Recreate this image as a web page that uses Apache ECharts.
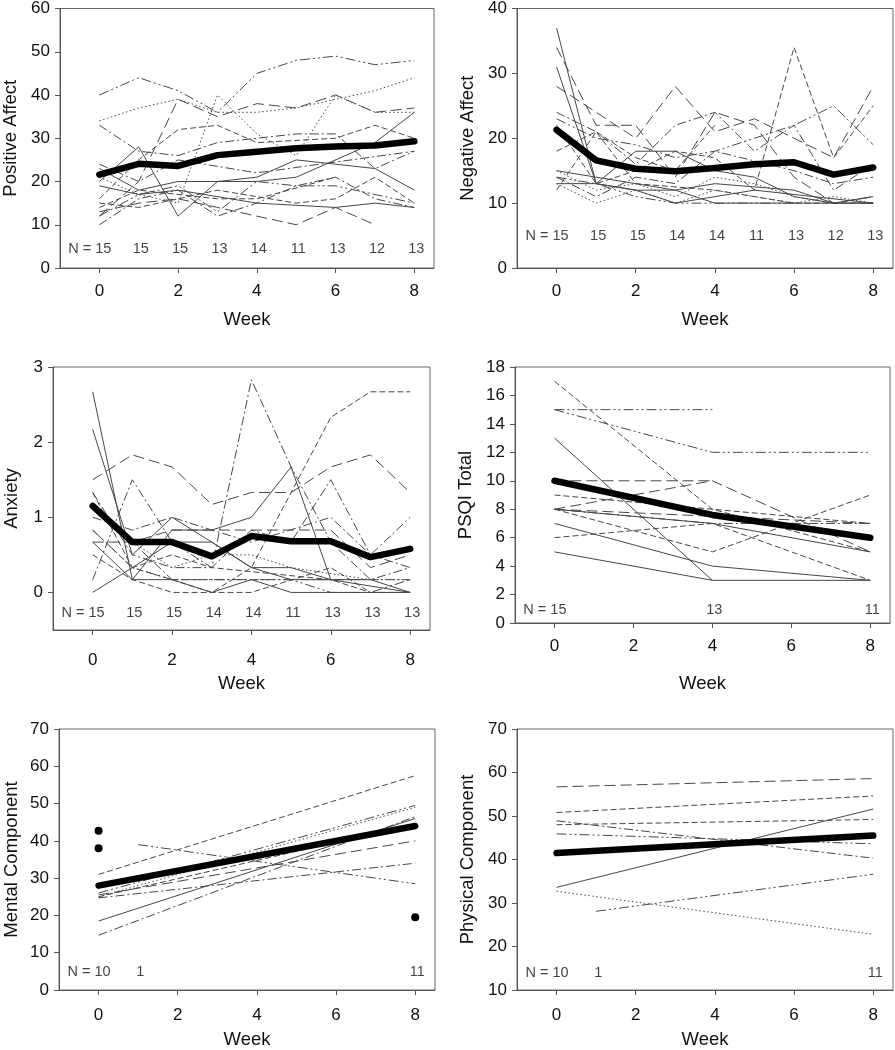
<!DOCTYPE html>
<html><head><meta charset="utf-8">
<script src="https://cdn.jsdelivr.net/npm/echarts@6/dist/echarts.min.js"></script>
<style>html,body{margin:0;padding:0;background:#fff}#c{width:895px;height:1050px}</style>
</head><body><div id="c"></div>
<script>
// ---------------- DATA ----------------
const weeks = [0,1,2,3,4,5,6,7,8];
const psqiWeeks = [0,4,8];
const sf36Weeks = [0,1,8];
const xTickValues = [0,2,4,6,8];

// Positive Affect
const paN = [15,15,15,13,14,11,13,12,13];
const paMean = [21.6,24.1,23.6,26.1,26.9,27.7,28.1,28.3,29.3];
const paSubjects = [
  [40,44,41,36,45,48,49,47,48],
  [34,37,39,36,36,37,39,41,44],
  [33,27,26,29,30,31,31,23,27],
  [21,17,15,40,31,26,40,36,36],
  [12,20,39,35,38,37,40,36,37],
  [16,25,32,33,29,null,30,33,30],
  [20,28,12,20,21,25,24,23,18],
  [23,18,20,20,20,21,null,29,36],
  [13,15,16,14,12,10,14,10,null],
  [15,14,16,18,null,15,16,21,15],
  [12,17,19,13,20,19,19,null,15],
  [19,17,18,null,15,null,14,15,14],
  [10,16,18,12,15,19,21,16,14],
  [14,18,17,16,16,null,21,null,null],
  [24,20,25,null,22,null,null,null,27]
];

// Negative Affect
const naN = [15,15,15,14,14,11,13,12,13];
const naMean = [21.3,16.6,15.3,14.9,15.4,16.0,16.3,14.4,15.5];
const naSubjects = [
  [37,13,12,12,10,10,10,10,10],
  [34,22,22,14,24,22,14,10,11],
  [31,13,18,18,15,14,11,10,11],
  [28,24,20,28,21,23,20,17,28],
  [22,13,15,18,17,12,34,17,25],
  [24,21,16,22,24,18,22,12,16],
  [23,20,19,17,18,20,22,25,19],
  [13,10,12,10,12,11,10,11,10],
  [15,12,13,11,14,13,11,10,11],
  [15,14,13,12,13,null,12,10,10],
  [14,11,14,13,18,null,15,13,14],
  [12,21,13,null,12,null,10,10,10],
  [13,13,12,10,null,12,null,null,10],
  [14,13,11,10,10,10,10,null,null],
  [18,21,17,15,22,null,null,null,null]
];

// Anxiety
const anxN = [15,15,15,14,14,11,13,13,13];
const anxMean = [1.15,0.67,0.67,0.48,0.75,0.68,0.68,0.47,0.58];
const anxSubjects = [
  [2.67,0.17,0.17,0,0.17,0,0,0,0],
  [2.17,0.5,1.0,0.67,0.33,0.17,0.17,null,0],
  [1.5,1.83,1.67,1.17,1.33,1.33,1.67,1.83,1.33],
  [1.33,0.33,0.17,0,0.33,null,2.33,2.67,2.67],
  [0.17,1.5,0.67,0.33,2.83,1.67,0.67,0.17,0.33],
  [0.67,0.17,0.83,0.83,1.0,1.67,0.17,0.17,0],
  [1.33,0.5,0.33,0.33,0.83,0.67,1.5,0.5,0.33],
  [1.0,0.83,1.0,0.83,0.67,null,1.0,0.5,1.0],
  [0.67,0.67,0.83,0.83,0.83,0.83,0.83,0.33,0.5],
  [0.5,0.17,0,0,0,null,0.33,0,0],
  [0.83,0.33,0.17,0.17,0.17,0.17,0,0,0.17],
  [1.17,0.67,0.33,0.5,0.5,0.33,null,0.17,0.17],
  [0,0.33,0.67,0.67,0.33,0.33,0.17,null,null],
  [0.83,0.33,0.5,0.33,null,null,0.17,0,null],
  [1.17,0.67,0.17,null,0.17,0.17,null,0.17,0.17]
];

// PSQI Total
const psqiN = [15,13,11];
const psqiMean = [10,7.6,6];
const psqiSubjects = [
  [15,15,null],
  [15,12,12],
  [17,8,5],
  [13,3,3],
  [10,10,null],
  [8,10,5],
  [9,8,7],
  [8,7,7],
  [8,5,9],
  [6,7,3],
  [8,null,7],
  [7,4,3],
  [5,3,null],
  [8,7,5],
  [9,null,null]
];

// SF-36 Mental Component
const mcsN = [10,1,11];
const mcsMean = [28,null,44];
const mcsSubjects = [
  [31,null,57.5],
  [25,null,49],
  [26,null,49.5],
  [18.5,null,46],
  [14.7,null,46.5],
  [25.5,null,40],
  [24.7,null,34],
  [null,39,28.5],
  [25,null,44.5]
];
const mcsSinglePoints = [[0,42.7],[0,38],[8,19.5]];

// SF-36 Physical Component
const pcsN = [10,1,11];
const pcsMean = [41.5,null,45.5];
const pcsSubjects = [
  [56.7,null,58.6],
  [50.8,null,54.6],
  [48.0,null,49.2],
  [48.9,null,40.3],
  [45.9,null,43.6],
  [33.6,null,51.6],
  [32.7,null,22.8],
  [null,28.1,36.6]
];

// ---------------- STYLES ----------------
const DASH = {
  solid: 'solid',
  long: [11,5],
  dash: [6,3],
  dot: [1.5,2.5],
  dd: [9,3,2,3],
  ddd: [10,3,2,3,2,3]
};
const paStyles  = ['ddd','dot','dd','dot','long','dash','solid','solid','long','dash','ddd','solid','dd','dash','dd'];
const naStyles  = ['solid','long','solid','long','dash','dd','ddd','dot','dot','solid','dd','dash','solid','ddd','dash'];
const anxStyles = ['solid','solid','long','dash','dd','solid','dd','dd','long','dash','ddd','dot','solid','dash','dd'];
const psqiStyles= ['ddd','ddd','dash','solid','long','long','dash','dd','dash','dash','long','solid','solid','solid','dash'];
const mcsStyles = ['dash','dot','ddd','solid','dd','long','dd','ddd','dash'];
const pcsStyles = ['long','dash','dash','dd','ddd','solid','dot','ddd'];

const FONT = 'Liberation Sans, Arial, sans-serif';
const THIN = '#474747';

const panels = [
  {grid:{left:59,top:6,width:375,height:262}, y:{min:0,max:60,ticks:[0,10,20,30,40,50,60]}, name:'Positive Affect', yGap:40, lblMargin:15, xGap:42,
   xs:weeks, subjects:paSubjects, styles:paStyles, mean:paMean, n:paN, nX:weeks, nY:4.35},
  {grid:{left:517,top:6,width:376,height:262}, y:{min:0,max:40,ticks:[0,10,20,30,40]}, name:'Negative Affect', yGap:40, lblMargin:15, xGap:42,
   xs:weeks, subjects:naSubjects, styles:naStyles, mean:naMean, n:naN, nX:weeks, nY:4.9},
  {grid:{left:53,top:367,width:377,height:263}, y:{min:-0.5,max:3,ticks:[0,1,2,3]}, name:'Anxiety', yGap:32, lblMargin:22, xGap:44,
   xs:weeks, subjects:anxSubjects, styles:anxStyles, mean:anxMean, n:anxN, nX:weeks, nY:-0.27},
  {grid:{left:515,top:367,width:375,height:256}, y:{min:0,max:18,ticks:[0,2,4,6,8,10,12,14,16,18]}, name:'PSQI Total', yGap:40, lblMargin:15, xGap:51,
   xs:psqiWeeks, subjects:psqiSubjects, styles:psqiStyles, mean:psqiMean, n:psqiN, nX:psqiWeeks, nY:0.9},
  {grid:{left:59,top:729,width:376,height:264}, y:{min:0,max:70,ticks:[0,10,20,30,40,50,60,70]}, name:'Mental Component', yGap:38, lblMargin:17, xGap:40,
   xs:sf36Weeks, subjects:mcsSubjects, styles:mcsStyles, mean:mcsMean, n:mcsN, nX:sf36Weeks, nY:4.8, points:mcsSinglePoints},
  {grid:{left:517,top:729,width:376,height:264}, y:{min:10,max:70,ticks:[10,20,30,40,50,60,70]}, name:'Physical Component', yGap:40, lblMargin:17, xGap:40,
   xs:sf36Weeks, subjects:pcsSubjects, styles:pcsStyles, mean:pcsMean, n:pcsN, nX:sf36Weeks, nY:14}
];

const grids = [], xAxes = [], yAxes = [], series = [];
const axisLineStyle = {color:'#555', width:1};
panels.forEach((p, i) => {
  grids.push(Object.assign({show:true, borderColor:'#666', borderWidth:1, backgroundColor:'transparent', containLabel:false}, p.grid));
  xAxes.push({
    type:'value', gridIndex:i, min:-1, max:8.5,
    name:'Week', nameLocation:'middle', nameGap:p.xGap,
    nameTextStyle:{fontFamily:FONT, fontSize:18.5, color:'#111'},
    axisLine:{show:true, onZero:false, lineStyle:axisLineStyle},
    axisTick:{show:true, length:5, lineStyle:axisLineStyle, customValues:xTickValues},
    axisLabel:{show:true, margin:p.lblMargin, fontFamily:FONT, fontSize:17, color:'#111', customValues:xTickValues},
    splitLine:{show:false}
  });
  yAxes.push({
    type:'value', gridIndex:i, min:p.y.min, max:p.y.max,
    name:p.name, nameLocation:'middle', nameGap:p.yGap, nameRotate:90,
    nameTextStyle:{fontFamily:FONT, fontSize:18.5, color:'#111'},
    axisLine:{show:true, onZero:false, lineStyle:axisLineStyle},
    axisTick:{show:true, length:5, lineStyle:axisLineStyle, customValues:p.y.ticks},
    axisLabel:{show:true, margin:10, fontFamily:FONT, fontSize:17, color:'#111', customValues:p.y.ticks},
    splitLine:{show:false}
  });
  p.subjects.forEach((vals, k) => {
    series.push({
      type:'line', xAxisIndex:i, yAxisIndex:i, silent:true, animation:false,
      symbol:'none', showSymbol:false, connectNulls:true, z:2,
      lineStyle:{color:THIN, width:1, type:DASH[p.styles[k]]},
      data: p.xs.map((w, j) => [w, vals[j]])
    });
  });
  series.push({
    type:'line', xAxisIndex:i, yAxisIndex:i, silent:true, animation:false,
    symbol:'none', showSymbol:false, connectNulls:true, z:5,
    lineStyle:{color:'#000', width:6.5, cap:'round', join:'round'},
    data: p.xs.map((w, j) => [w, p.mean[j]])
  });
  if (p.points) {
    series.push({
      type:'scatter', xAxisIndex:i, yAxisIndex:i, silent:true, animation:false,
      symbol:'circle', symbolSize:8, itemStyle:{color:'#000', opacity:1}, z:6,
      data:p.points
    });
  }
  series.push({
    type:'scatter', xAxisIndex:i, yAxisIndex:i, silent:true, animation:false,
    symbol:'circle', symbolSize:1, itemStyle:{color:'rgba(0,0,0,0)'}, z:7,
    data: p.nX.map((w, j) => ({
      value:[w, p.nY],
      label:{
        show:true, position:'inside',
        formatter: j === 0 ? ('N = ' + p.n[j]) : String(p.n[j]),
        align: j === 0 ? 'right' : 'center',
        offset: j === 0 ? [12,0] : [2,0],
        fontFamily:FONT, fontSize:14.5, color:'#111'
      }
    }))
  });
});

const chart = echarts.init(document.getElementById('c'), null, {renderer:'canvas'});
chart.setOption({
  backgroundColor:'#fff',
  animation:false,
  grid:grids, xAxis:xAxes, yAxis:yAxes, series:series
});
</script></body></html>
